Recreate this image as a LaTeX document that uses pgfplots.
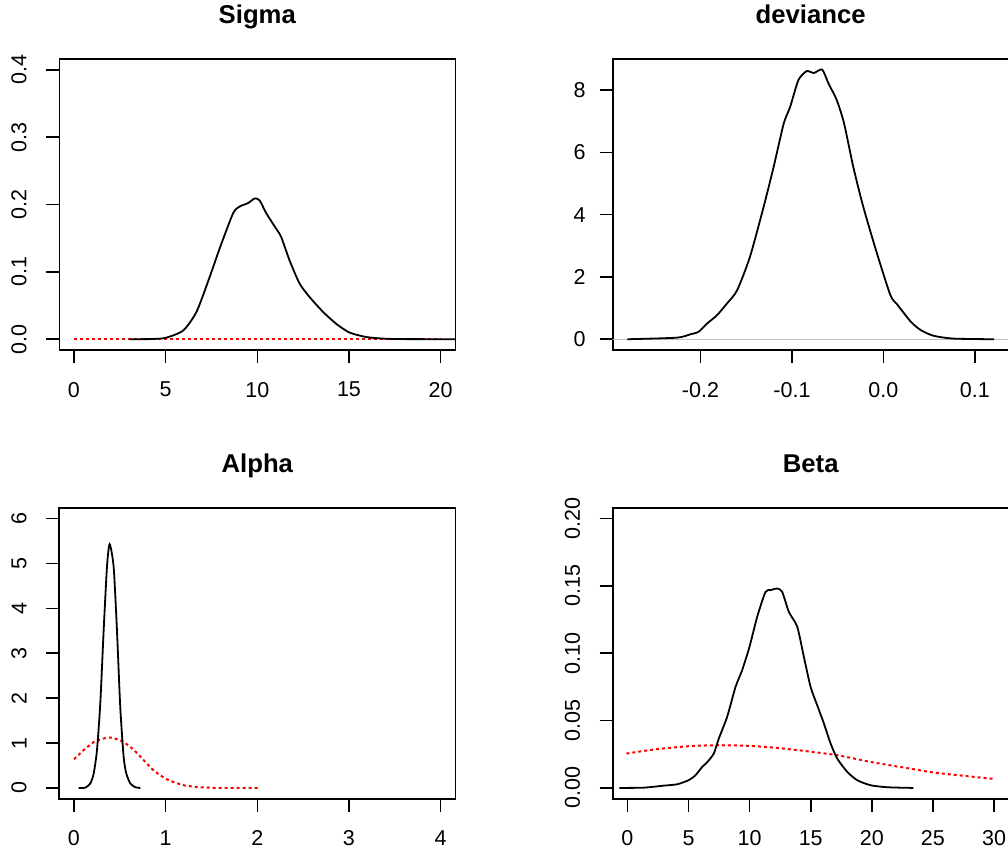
\documentclass[border=0pt]{standalone}
\usepackage{pgfplots}
\pgfplotsset{compat=1.18}
\usepackage{fontspec}
\setmainfont{Liberation Sans}
\newcommand{\tickfont}{\fontsize{21.5}{23}\selectfont}
\newcommand{\titlefont}{\fontsize{25.7}{28}\selectfont\bfseries}
\pgfplotsset{
  rstyle/.style={
    scale only axis, width=396pt, height=291pt,
    axis line style={line width=1.6pt},
    tick style={line width=1.6pt, black},
    tick align=outside, major tick length=13pt,
    xtick pos=bottom, ytick pos=left,
    ticklabel style={font=\tickfont},
    xticklabel style={anchor=north, inner sep=0pt},
    xticklabel shift=19pt,
    title style={at={(0.5,1)}, anchor=base, yshift=29.7pt, font=\titlefont},
    anchor=north west,
  },
  rotlab/.style={yticklabel style={rotate=90, anchor=south, inner sep=0pt}, yticklabel shift=19.5pt},
  horlab/.style={yticklabel style={anchor=east, inner sep=0pt}, yticklabel shift=14pt},
  post/.style={black, line width=1.8pt, smooth, tension=0.4},
  prior/.style={red, line width=2pt, dash pattern=on 3pt off 3pt},
}
\begin{document}
\begin{tikzpicture}
\useasboundingbox (0,0) rectangle (1008pt,-853pt);
\clip (0,0) rectangle (1008pt,-853pt);
% Sigma
\begin{axis}[rstyle, rotlab, at={(59.3pt,-59pt)}, title={Sigma},
  xmin=-0.8, xmax=20.8, ymin=-0.016, ymax=0.416,
  xtick={0,5,10,15,20}, xticklabels={0,5,10,15,20},
  ytick={0,0.1,0.2,0.3,0.4}, yticklabels={0.0,0.1,0.2,0.3,0.4}]
\addplot[prior] coordinates {(0,0.0005) (20,0.0005)};
\addplot[post] coordinates {
(3.03,0) (4.2,0.0003) (5.0,0.002) (5.96,0.013) (6.69,0.041) (7.41,0.093) (7.95,0.135)
(8.68,0.187) (9.04,0.197) (9.49,0.202) (9.86,0.209) (10.13,0.206) (10.49,0.187)
(11.03,0.164) (11.3,0.152) (11.76,0.117) (12.3,0.083) (12.84,0.063) (13.57,0.041)
(14.3,0.023) (15.02,0.010) (15.9,0.0035) (16.8,0.001) (18,0.0002) (22,0)};
\end{axis}
% deviance
\begin{axis}[rstyle, horlab, at={(612.7pt,-59pt)}, title={deviance},
  xmin=-0.296, xmax=0.137, ymin=-0.346, ymax=9.0,
  xtick={-0.2,-0.1,0,0.1}, xticklabels={-0.2,-0.1,0.0,0.1},
  ytick={0,2,4,6,8}, yticklabels={0,2,4,6,8}]
\addplot[gray!50, line width=1pt] coordinates {(-0.4,0) (0.3,0)};
\addplot[post] coordinates {
(-0.28,0) (-0.226,0.05) (-0.211,0.16) (-0.202,0.24) (-0.193,0.50) (-0.182,0.77)
(-0.171,1.15) (-0.160,1.57) (-0.146,2.64) (-0.131,4.25) (-0.120,5.54) (-0.109,6.93)
(-0.102,7.46) (-0.093,8.32) (-0.084,8.61) (-0.076,8.55) (-0.067,8.66) (-0.060,8.21)
(-0.051,7.68) (-0.043,6.93) (-0.033,5.54) (-0.022,4.25) (-0.007,2.75) (0.0077,1.41)
(0.015,1.12) (0.030,0.56) (0.041,0.29) (0.055,0.11) (0.077,0.02) (0.121,0)};
\end{axis}
% Alpha
\begin{axis}[rstyle, rotlab, at={(59.3pt,-507.7pt)}, title={Alpha},
  xmin=-0.16, xmax=4.16, ymin=-0.24, ymax=6.24,
  xtick={0,1,2,3,4}, xticklabels={0,1,2,3,4},
  ytick={0,1,2,3,4,5,6}, yticklabels={0,1,2,3,4,5,6}]
\addplot[prior, smooth, tension=0.4] coordinates {
(0,0.64) (0.105,0.84) (0.215,1.02) (0.324,1.10) (0.415,1.12) (0.542,1.02) (0.651,0.85)
(0.76,0.62) (0.869,0.39) (1.015,0.19) (1.196,0.06) (1.378,0.015) (1.56,0.002) (1.8,0) (2.015,0)};
\addplot[post] coordinates {
(0.051,0) (0.124,0.007) (0.178,0.1) (0.215,0.32) (0.251,0.84) (0.287,1.88) (0.324,3.51)
(0.36,4.92) (0.389,5.43) (0.433,4.92) (0.469,3.51) (0.505,1.80) (0.542,0.69) (0.571,0.32)
(0.615,0.10) (0.669,0.015) (0.724,0)};
\end{axis}
% Beta
\begin{axis}[rstyle, rotlab, at={(612.7pt,-507.7pt)}, title={Beta},
  xmin=-1.2, xmax=31.2, ymin=-0.008, ymax=0.208,
  xtick={0,5,10,15,20,25,30}, xticklabels={0,5,10,15,20,25,30},
  ytick={0,0.05,0.10,0.15,0.20}, yticklabels={0.00,0.05,0.10,0.15,0.20}]
\addplot[prior, smooth, tension=0.4] coordinates {
(-0.08,0.0255) (2.16,0.0285) (4.89,0.0309) (7.34,0.0317) (10.07,0.0312) (12.26,0.0297)
(14.44,0.0275) (17.17,0.0243) (19.9,0.0193) (22.63,0.0151) (25.36,0.0111) (30.0,0.0067)};
\addplot[post] coordinates {
(-0.66,0) (1.34,0.0002) (2.98,0.0017) (4.07,0.0027) (5.0,0.0057) (5.57,0.0094) (6.12,0.0156)
(6.52,0.019) (7.07,0.0255) (7.48,0.0366) (8.16,0.0527) (8.85,0.075) (9.39,0.0874)
(9.99,0.1047) (10.62,0.127) (11.30,0.1455) (11.71,0.1468) (12.26,0.148) (12.67,0.1455)
(13.21,0.1307) (13.9,0.1196) (14.44,0.0973) (14.99,0.075) (15.53,0.0614) (16.08,0.0478)
(16.63,0.0329) (17.17,0.0218) (17.99,0.0119) (18.81,0.0057) (19.9,0.002) (21.27,0.0005) (23.4,0)};
\end{axis}
\end{tikzpicture}
\end{document}
